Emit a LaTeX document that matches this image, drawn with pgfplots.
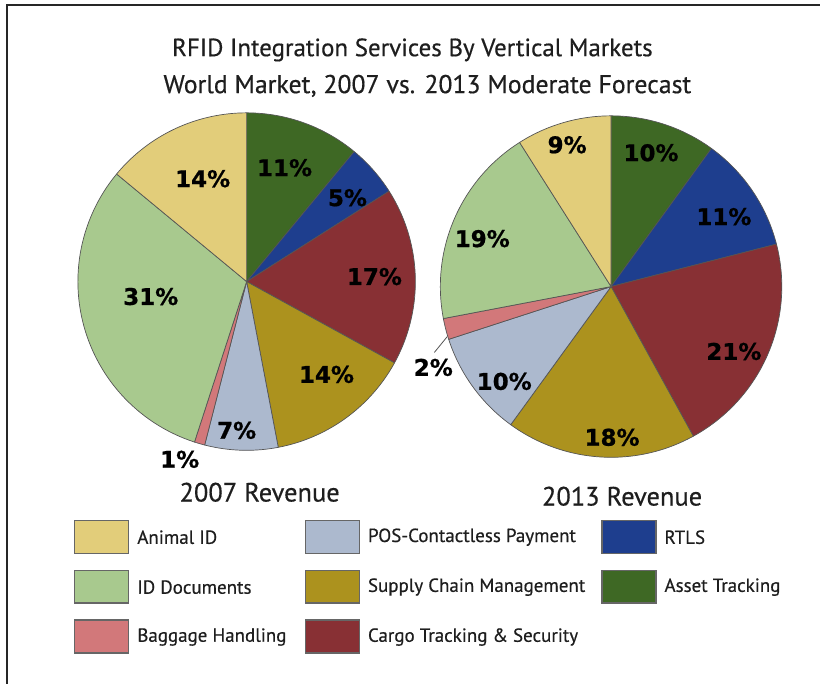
\documentclass[border=0pt]{standalone}
\usepackage{fontspec}
\setmainfont{PT Sans}[UprightFeatures={FakeBold=0.5}]
\newfontfamily\pctfont{DejaVu Sans}[BoldFeatures={FakeBold=0.8}]
\usepackage{pgfplots}
\pgfplotsset{compat=1.18}

\definecolor{cAnimal}{RGB}{226,205,122}
\definecolor{cID}{RGB}{168,201,142}
\definecolor{cBag}{RGB}{210,120,122}
\definecolor{cPOS}{RGB}{172,185,206}
\definecolor{cSupply}{RGB}{172,146,30}
\definecolor{cCargo}{RGB}{136,48,52}
\definecolor{cRTLS}{RGB}{30,62,142}
\definecolor{cAsset}{RGB}{62,104,36}
\definecolor{edge}{RGB}{85,85,85}
\definecolor{txt}{RGB}{30,30,30}

% slice: cx, cy, r, start (%), share (%), colour  -- angles clockwise from top
\newcommand{\slice}[6]{%
  \pgfmathsetmacro{\sa}{#4*3.6}%
  \pgfmathsetmacro{\sb}{(#4+#5)*3.6}%
  \addplot[fill=#6, draw=edge, line width=0.7pt, line join=round,
           domain=\sa:\sb, samples=60, variable=\t]
     ({#1+#3*sin(\t)},{#2-#3*cos(\t)}) -- (axis cs:#1,#2) -- cycle;}

\newcommand{\pct}[3]{\node[font=\pctfont\bfseries\fontsize{23}{25}\selectfont, text=black] at (axis cs:#1,#2) {#3\%};}
\newcommand{\legitem}[4]{%
  \draw[fill=#3, draw=edge!90, line width=1.2pt] (axis cs:#1,#2) rectangle (axis cs:#1+54,#2+33);
  \node[anchor=west, font=\fontsize{19}{21}\selectfont, text=txt] at (axis cs:#1+59,#2+17) {#4};}

\begin{document}
\begin{tikzpicture}
\begin{axis}[scale only axis, width=821pt, height=685pt,
  xmin=0, xmax=821, ymin=0, ymax=685, y dir=reverse,
  axis line style={draw=none}, ticks=none, clip=false]

% frame
\draw[line width=2.5pt, black!85] (axis cs:7,685) -- (axis cs:7,5) -- (axis cs:821,5);

% titles
\node[font=\fontsize{25}{27}\selectfont, text=txt] at (axis cs:413,50) {RFID Integration Services By Vertical Markets};
\node[font=\fontsize{25.8}{27}\selectfont, text=txt] at (axis cs:428,86) {World Market, 2007 vs. 2013 Moderate Forecast};

% ---- 2007 pie (shares in %, clockwise from top) ----
\slice{247}{282}{169}{0}{11}{cAsset}
\slice{247}{282}{169}{11}{5}{cRTLS}
\slice{247}{282}{169}{16}{17}{cCargo}
\slice{247}{282}{169}{33}{14}{cSupply}
\slice{247}{282}{169}{47}{7}{cPOS}
\slice{247}{282}{169}{54}{1}{cBag}
\slice{247}{282}{169}{55}{31}{cID}
\slice{247}{282}{169}{86}{14}{cAnimal}

% ---- 2013 pie ----
\slice{612}{287}{171}{0}{10}{cAsset}
\slice{612}{287}{171}{10}{11}{cRTLS}
\slice{612}{287}{171}{21}{21}{cCargo}
\slice{612}{287}{171}{42}{18}{cSupply}
\slice{612}{287}{171}{60}{10}{cPOS}
\slice{612}{287}{171}{70}{2}{cBag}
\slice{612}{287}{171}{72}{19}{cID}
\slice{612}{287}{171}{91}{9}{cAnimal}

% labels 2007
\pct{285}{168}{11}
\pct{348}{198}{5}
\pct{375}{277}{17}
\pct{327}{375}{14}
\pct{237}{431}{7}
\pct{180}{460}{1}
\pct{151}{297}{31}
\pct{203}{179}{14}

% labels 2013
\pct{568}{145}{9}
\pct{652}{153}{10}
\pct{725}{217}{11}
\pct{735}{352}{21}
\pct{613}{438}{18}
\pct{505}{382}{10}
\pct{434}{368}{2}
\pct{483}{239}{19}
\draw[edge, line width=0.8pt] (axis cs:435,353) -- (axis cs:448,337);

% revenue captions
\node[font=\fontsize{26.5}{28}\selectfont, text=txt] at (axis cs:260,493) {2007 Revenue};
\node[font=\fontsize{26.5}{28}\selectfont, text=txt] at (axis cs:623,497) {2013 Revenue};

% legend
\legitem{75}{521}{cAnimal}{Animal ID}
\legitem{75}{571}{cID}{ID Documents}
\legitem{75}{621}{cBag}{Baggage Handling}
\legitem{306}{521}{cPOS}{POS-Contactless Payment}
\legitem{306}{571}{cSupply}{Supply Chain Management}
\legitem{306}{621}{cCargo}{Cargo Tracking \& Security}
\legitem{603}{521}{cRTLS}{RTLS}
\legitem{603}{571}{cAsset}{Asset Tracking}

\end{axis}
\end{tikzpicture}
\end{document}
